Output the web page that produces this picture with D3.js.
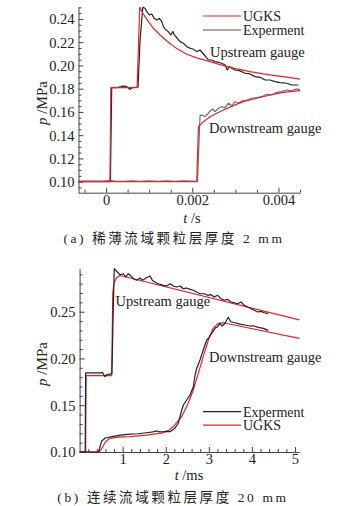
<!DOCTYPE html>
<html>
<head>
<meta charset="utf-8">
<script src="https://cdn.jsdelivr.net/npm/d3@7"></script>
<style>
  body { margin: 0; background: #fff; }
  svg { display: block; }
  text { font-family: "Liberation Serif", "Times New Roman", serif; fill: #222; }
  .cap { font-family: "Liberation Serif", "Noto Sans CJK SC", serif; letter-spacing: 2.6px; }
</style>
</head>
<body>
<script>
const width = 351;
const height = 506;

// ---- panel (a): t in s, p in MPa ----
const aUpUgks = [[-0.00064,0.1000],[0.00009,0.1000],[0.00011,0.1810],[0.00072,0.1810],[0.00078,0.2500],
  [0.000865,0.2443],[0.000981,0.2377],[0.001097,0.2320],[0.001253,0.2262],[0.001408,0.2211],[0.00164,0.2145],
  [0.001872,0.2096],[0.002104,0.2065],[0.002413,0.2033],[0.002722,0.1998],[0.003032,0.1970],[0.003341,0.1947],
  [0.00365,0.1927],[0.00396,0.1910],[0.004269,0.1895],[0.0045,0.1883]];
const aUpExp = [[-0.00064,0.1002],[0.00010,0.1002],[0.00013,0.1812],[0.000255,0.1809],[0.00033,0.1815],
  [0.000401,0.1824],[0.000487,0.1815],[0.000557,0.1795],[0.000626,0.1811],[0.000708,0.1811],[0.000742,0.1815],
  [0.000789,0.2219],[0.000852,0.2501],[0.000905,0.2492],[0.000944,0.2463],[0.001005,0.2435],[0.00106,0.2443],
  [0.001114,0.2406],[0.001176,0.2392],[0.001237,0.2406],[0.001292,0.2377],[0.00133,0.2334],[0.001392,0.2305],
  [0.001445,0.2291],[0.001501,0.2262],[0.001548,0.2291],[0.001601,0.2254],[0.001654,0.2234],[0.001717,0.2205],
  [0.001794,0.2191],[0.001872,0.2162],[0.001949,0.2148],[0.002026,0.2139],[0.002104,0.2119],[0.002181,0.2133],
  [0.002244,0.2105],[0.002297,0.2082],[0.002374,0.2047],[0.002452,0.2047],[0.002529,0.2033],[0.002606,0.2028],
  [0.002684,0.2019],[0.002761,0.2004],[0.002814,0.1961],[0.002861,0.1990],[0.002916,0.1976],[0.002993,0.1961],
  [0.003109,0.1953],[0.003225,0.1933],[0.003341,0.1927],[0.003457,0.1904],[0.003573,0.1898],[0.003689,0.1875],
  [0.003805,0.1875],[0.003921,0.1861],[0.004037,0.1852],[0.004193,0.1847],[0.004309,0.1832],[0.004462,0.1832]];
const aDownUgks = [[-0.00064,0.1000],[0.002104,0.1000],[0.002142,0.1473],[0.002258,0.1516],[0.002413,0.1559],
  [0.002568,0.1589],[0.002722,0.1617],[0.002954,0.1654],[0.003186,0.1689],[0.003497,0.1718],[0.003805,0.1746],
  [0.004114,0.1769],[0.0045,0.1784]];
const aDownExp = [[-0.00064,0.1003],[-0.0003,0.1002],[0.0000,0.1004],[0.0001,0.1010],[0.0002,0.1004],
  [0.0004,0.1003],[0.0006,0.1008],[0.0008,0.1003],[0.0010,0.1006],[0.0012,0.1002],[0.0014,0.1007],
  [0.0016,0.1003],[0.0018,0.1006],[0.0020,0.1004],[0.00212,0.1000],[0.002181,0.1570],[0.002244,0.1572],
  [0.002297,0.1559],[0.00235,0.1580],[0.002413,0.1608],[0.002476,0.1626],[0.002529,0.1602],[0.002606,0.1632],
  [0.002684,0.1645],[0.002761,0.1637],[0.002838,0.1675],[0.002916,0.1654],[0.002993,0.1688],[0.00307,0.1675],
  [0.003148,0.1694],[0.003265,0.1703],[0.00338,0.1718],[0.003497,0.1723],[0.003613,0.1731],[0.003729,0.1752],
  [0.003845,0.1746],[0.003961,0.1769],[0.004077,0.1775],[0.004193,0.1789],[0.004309,0.1781],[0.004408,0.1798],
  [0.0045,0.1792]];

// ---- panel (b): t in ms, p in MPa ----
const bUpUgks = [[0,0.1000],[0.14,0.1000],[0.15,0.1816],[0.745,0.1816],[0.77,0.2700],[0.80,0.2810],
  [0.86,0.2865],[0.94,0.2887],[5.1,0.2413]];
const bUpExp = [[0,0.1000],[0.13,0.1000],[0.14,0.1845],[0.51,0.1845],[0.53,0.1852],[0.59,0.1805],[0.64,0.1830],
  [0.70,0.1833],[0.75,0.1840],[0.78,0.2500],[0.805,0.2960],[0.861,0.2932],[0.938,0.2895],[1.014,0.2906],
  [1.070,0.2871],[1.130,0.2906],[1.193,0.2882],[1.247,0.2853],[1.325,0.2836],[1.402,0.2860],[1.455,0.2836],
  [1.518,0.2853],[1.581,0.2871],[1.634,0.2882],[1.688,0.2836],[1.750,0.2817],[1.813,0.2799],[1.890,0.2789],
  [1.943,0.2782],[2.022,0.2775],[2.098,0.2799],[2.175,0.2775],[2.254,0.2764],[2.331,0.2775],[2.407,0.2746],
  [2.486,0.2753],[2.563,0.2739],[2.639,0.2729],[2.718,0.2711],[2.795,0.2692],[2.895,0.2692],[2.974,0.2675],
  [3.050,0.2682],[3.127,0.2657],[3.206,0.2675],[3.282,0.2639],[3.359,0.2622],[3.438,0.2632],[3.514,0.2604],
  [3.591,0.2596],[3.670,0.2585],[3.747,0.2604],[3.823,0.2568],[3.902,0.2550],[3.979,0.2532],[4.055,0.2515],
  [4.134,0.2497],[4.211,0.2504],[4.287,0.2489],[4.380,0.2479]];
const bDownUgks = [[0,0.1000],[0.45,0.1000],[0.52,0.1040],[0.60,0.1110],[0.70,0.1146],[0.90,0.1160],
  [1.17,0.1164],[1.55,0.1180],[1.94,0.1205],[2.10,0.1240],[2.21,0.1289],[2.37,0.1377],[2.52,0.1521],
  [2.64,0.1663],[2.755,0.1841],[2.87,0.2019],[2.99,0.2197],[3.10,0.2322],[3.205,0.2368],[3.25,0.2378],
  [3.336,0.2382],[5.1,0.2214]];
const bDownExp = [[0,0.1000],[0.44,0.1000],[0.47,0.1050],[0.51,0.1118],[0.55,0.1130],[0.59,0.1150],
  [0.75,0.1165],[0.95,0.1180],[1.17,0.1192],[1.35,0.1195],[1.557,0.1206],[1.70,0.1215],[1.79,0.1225],
  [1.86,0.1215],[1.94,0.1217],[2.02,0.1220],[2.10,0.1217],[2.21,0.1253],[2.29,0.1307],[2.37,0.1449],
  [2.41,0.1502],[2.486,0.1556],[2.563,0.1609],[2.64,0.1698],[2.68,0.1823],[2.718,0.1895],[2.795,0.1984],
  [2.87,0.2091],[2.95,0.2197],[2.99,0.2216],[3.066,0.2269],[3.143,0.2322],[3.205,0.2340],[3.26,0.2376],
  [3.31,0.2347],[3.375,0.2376],[3.45,0.2440],[3.51,0.2393],[3.607,0.2382],[3.723,0.2368],[3.838,0.2358],
  [3.955,0.2347],[4.03,0.2350],[4.148,0.2333],[4.264,0.2322],[4.38,0.2300]];

// ticks
const aXTicks = [0, 0.002, 0.004];
const aXMinor = [-0.0005, 0.0005, 0.001, 0.0015, 0.0025, 0.003, 0.0035, 0.0045];
const aYTicks = [0.10, 0.12, 0.14, 0.16, 0.18, 0.20, 0.22, 0.24];
const aYMinor = [0.095, 0.105, 0.11, 0.115, 0.125, 0.13, 0.135, 0.145, 0.15, 0.155, 0.165, 0.17, 0.175,
  0.185, 0.19, 0.195, 0.205, 0.21, 0.215, 0.225, 0.23, 0.235, 0.245, 0.25];
const bXTicks = [1, 2, 3, 4, 5];
const bXMinor = [0.2, 0.4, 0.6, 0.8, 1.2, 1.4, 1.6, 1.8, 2.2, 2.4, 2.6, 2.8, 3.2, 3.4, 3.6, 3.8,
  4.2, 4.4, 4.6, 4.8];
const bYTicks = [0.10, 0.15, 0.20, 0.25];
const bYMinor = [0.11, 0.12, 0.13, 0.14, 0.16, 0.17, 0.18, 0.19, 0.21, 0.22, 0.23, 0.24, 0.26, 0.27, 0.28, 0.29];

const RED = "#e3242b";
const BLACK = "#222";
const GRAY = "#6e6e6e";

const svg = d3.select("body").append("svg")
  .attr("width", width).attr("height", height)
  .attr("viewBox", [0, 0, width, height]);

function panel(o) {
  const x = d3.scaleLinear().domain(o.xDomain).range(o.xRange);
  const y = d3.scaleLinear().domain(o.yDomain).range(o.yRange);
  const g = svg.append("g");

  // minor ticks
  g.append("g").attr("transform", `translate(0,${o.yRange[0]})`)
    .call(d3.axisBottom(x).tickValues(o.xMinor).tickSize(-3).tickFormat(""))
    .call(a => a.select(".domain").remove());
  g.append("g").attr("transform", `translate(${o.xRange[0]},0)`)
    .call(d3.axisLeft(y).tickValues(o.yMinor).tickSize(-3).tickFormat(""))
    .call(a => a.select(".domain").remove());

  // major ticks
  g.append("g").attr("transform", `translate(0,${o.yRange[0]})`)
    .call(d3.axisBottom(x).tickValues(o.xTicks).tickSize(-5).tickSizeOuter(0)
      .tickPadding(2).tickFormat(o.xFormat));
  const ya = g.append("g").attr("transform", `translate(${o.xRange[0]},0)`)
    .call(d3.axisLeft(y).tickValues(o.yTicks).tickSize(-5).tickSizeOuter(0)
      .tickPadding(4).tickFormat(d3.format(".2f")));
  g.selectAll(".tick line").attr("stroke", "#444");
  g.selectAll(".domain").attr("stroke", "#444");
  g.selectAll(".tick text").style("font-size", "14.5px")
    .style("font-family", '"Liberation Serif", serif').attr("fill", "#222");
  ya.selectAll(".tick text").attr("dy", "0.34em");

  const line = d3.line().x(d => x(d[0])).y(d => y(d[1]));
  o.series.forEach(s => {
    g.append("path").datum(s.data)
      .attr("fill", "none").attr("stroke", s.color).attr("stroke-width", 1.2)
      .attr("stroke-linejoin", "round").attr("d", line);
  });

  // legend
  o.legend.forEach((l, i) => {
    const ly = o.legendY + i * o.legendGap;
    g.append("line").attr("x1", 203).attr("x2", 241).attr("y1", ly).attr("y2", ly)
      .attr("stroke", l.color).attr("stroke-width", 1.2);
    g.append("text").attr("x", 243).attr("y", ly).attr("dy", "0.35em")
      .style("font-size", "14px").text(l.name);
  });

  o.notes.forEach(n => {
    g.append("text").attr("x", n.x).attr("y", n.y).attr("dy", "0.35em")
      .style("font-size", "14.5px").text(n.text);
  });

  // axis titles
  const yl = g.append("text").attr("transform", `translate(42,${o.yLabelY}) rotate(-90)`)
    .attr("text-anchor", "middle").attr("dy", "0.35em").style("font-size", "15px");
  yl.append("tspan").style("font-style", "italic").text("p");
  yl.append("tspan").text(" /MPa");
  const xl = g.append("text").attr("x", o.xLabelX).attr("y", o.xLabelY)
    .attr("text-anchor", "middle").attr("dy", "0.35em").style("font-size", "14.5px");
  xl.append("tspan").style("font-style", "italic").text("t");
  xl.append("tspan").text(o.xUnit);

  g.append("text").attr("class", "cap").attr("x", o.capX).attr("y", o.capY)
    .attr("text-anchor", "middle").attr("dy", "0.35em").style("font-size", "13.5px")
    .text(o.caption);
}

panel({
  xDomain: [-0.00064, 0.0045], xRange: [78.5, 300],
  yDomain: [0.0905, 0.2503], yRange: [192.7, 7],
  xTicks: aXTicks, xMinor: aXMinor, yTicks: aYTicks, yMinor: aYMinor,
  xFormat: d => d === 0 ? "0" : d3.format(".3f")(d),
  series: [
    { data: aDownExp, color: GRAY },
    { data: aUpExp, color: BLACK },
    { data: aDownUgks, color: RED },
    { data: aUpUgks, color: RED }
  ],
  legend: [{ name: "UGKS", color: RED }, { name: "Experment", color: "#555" }],
  legendY: 16, legendGap: 14,
  notes: [{ x: 210, y: 52, text: "Upstream gauge" }, { x: 209, y: 127.5, text: "Downstream gauge" }],
  yLabelY: 103, xLabelX: 192, xLabelY: 218, xUnit: " /s",
  capX: 174, capY: 238, caption: "(a) 稀薄流域颗粒层厚度 2 mm"
});

panel({
  xDomain: [0, 5.1], xRange: [79.6, 299.3],
  yDomain: [0.10, 0.2964], yRange: [452, 268.3],
  xTicks: bXTicks, xMinor: bXMinor, yTicks: bYTicks, yMinor: bYMinor,
  xFormat: d3.format("d"),
  series: [
    { data: bDownUgks, color: RED },
    { data: bUpUgks, color: RED },
    { data: bDownExp, color: BLACK },
    { data: bUpExp, color: BLACK }
  ],
  legend: [{ name: "Experment", color: BLACK }, { name: "UGKS", color: RED }],
  legendY: 411.7, legendGap: 13.5,
  notes: [{ x: 115.5, y: 300.5, text: "Upstream gauge" }, { x: 209, y: 356.5, text: "Downstream gauge" }],
  yLabelY: 364, xLabelX: 189, xLabelY: 475, xUnit: " /ms",
  capX: 173, capY: 497, caption: "(b) 连续流域颗粒层厚度 20 mm"
});
</script>
</body>
</html>
